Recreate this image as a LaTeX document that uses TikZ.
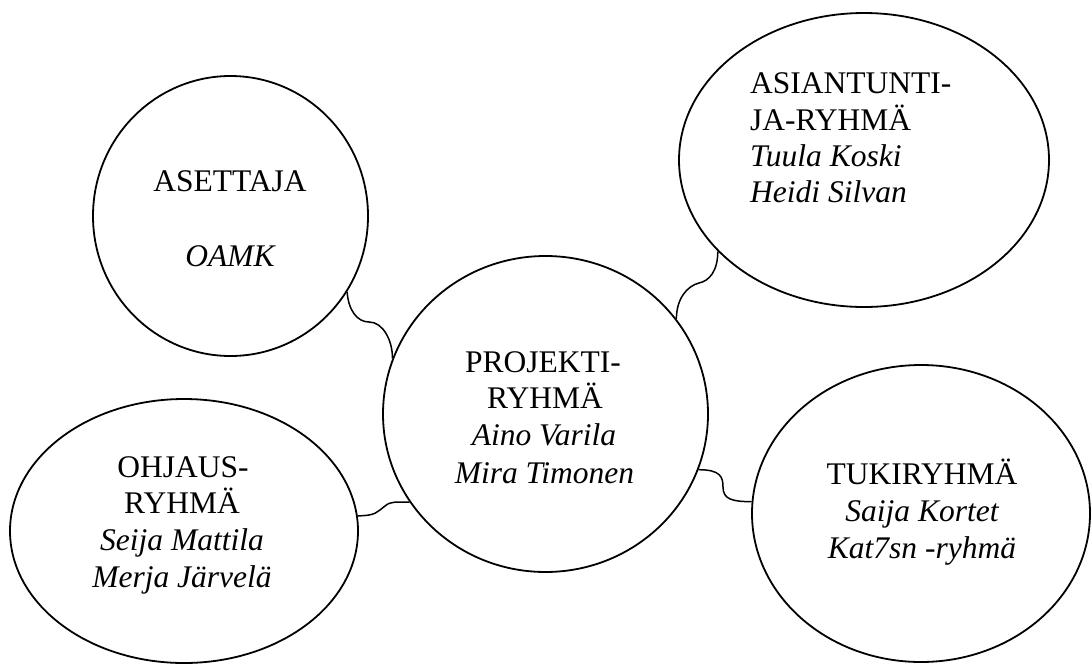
\documentclass[tikz,border=0pt]{standalone}
\usepackage{fontspec}
\setmainfont{Liberation Serif}
\usetikzlibrary{shapes.geometric}
\begin{document}
\begin{tikzpicture}[x=1pt,y=-1pt,
  bubble/.style={draw, ellipse, line width=1.8pt, inner sep=0pt},
  link/.style={line width=1.5pt},
  lbl/.style={anchor=base, inner sep=0pt, font=\fontsize{31.5}{37}\selectfont},
  nm/.style={anchor=base, inner sep=0pt, font=\fontsize{31.5}{37}\selectfont\itshape},
  lblw/.style={lbl, anchor=base west},
  nmw/.style={nm, anchor=base west}]
\useasboundingbox (0,0) rectangle (1092,664);
% bubbles
\node[bubble, minimum width=275pt, minimum height=280pt] (aset) at (230.5,216) {};
\node[bubble, minimum width=370pt, minimum height=294pt] (asian) at (864,160) {};
\node[bubble, minimum width=325pt, minimum height=316pt] (proj) at (545.5,414) {};
\node[bubble, minimum width=348pt, minimum height=264pt] (ohj) at (184,531) {};
\node[bubble, minimum width=338pt, minimum height=297pt] (tuki) at (921,513.5) {};
% texts
\node[lbl] (taset) at (230,191.5) {ASETTAJA};
\node[nm] (toamk) at (230,266) {OAMK};
\node[lblw] (ta1) at (750,93) {ASIANTUNTI-};
\node[lblw] (ta2) at (750,130) {JA-RYHMÄ};
\node[nmw] (ta3) at (750,166) {Tuula Koski};
\node[nmw] (ta4) at (750,202) {Heidi Silvan};
\node[lbl] (tp1) at (543,372.5) {PROJEKTI-};
\node[lbl] (tp2) at (545,408.5) {RYHMÄ};
\node[nm] (tp3) at (544,445.5) {Aino Varila};
\node[nm] (tp4) at (544.5,483) {Mira Timonen};
\node[lbl] (to1) at (183,477) {OHJAUS-};
\node[lbl] (to2) at (182,513.5) {RYHMÄ};
\node[nm] (to3) at (182,550) {Seija Mattila};
\node[nm] (to4) at (182,587.5) {Merja Järvelä};
\node[lbl] (tt1) at (922,484) {TUKIRYHMÄ};
\node[nm] (tt2) at (922,521) {Saija Kortet};
\node[nm] (tt3) at (922,558) {Kat7sn -ryhmä};
% connectors
\coordinate (m1) at (369,322);
\coordinate (m2) at (699,283);
\coordinate (m3) at (385,506);
\coordinate (m4) at (723,487);
\draw[link] (aset.-33) .. controls +(1,18) and +(-12,0) .. (m1)
                        .. controls +(14,0) and +(0,-18) .. (proj.160);
\draw[link] (asian.-148) .. controls +(0,20) and +(10,-2) .. (m2)
                        .. controls +(-12,3) and +(0,-20) .. (proj.36);
\draw[link] (ohj.5) .. controls +(18,0) and +(-8,6) .. (m3)
                        .. controls +(6,-5) and +(-14,0) .. (proj.-147);
\draw[link] (proj.-20) .. controls +(22,0) and +(0,-10) .. (m4)
                        .. controls +(0,12) and +(-20,0) .. (tuki.176);
\end{tikzpicture}
\end{document}
